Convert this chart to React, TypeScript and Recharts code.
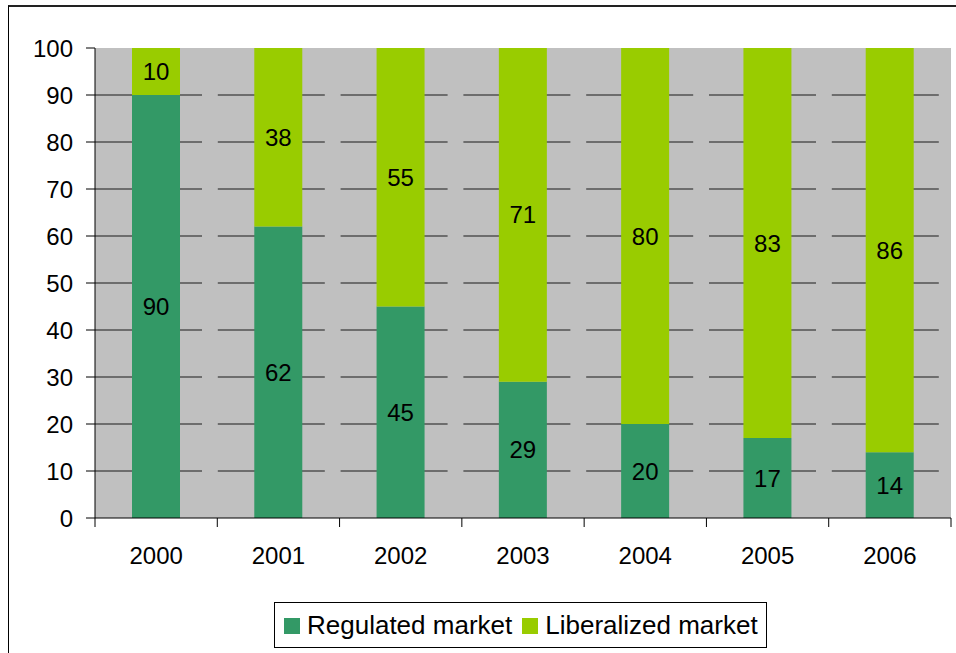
import { BarChart, Bar, XAxis, YAxis, CartesianGrid, Legend, LabelList } from "recharts";

const years = ["2000", "2001", "2002", "2003", "2004", "2005", "2006"];
const regulated = [90, 62, 45, 29, 20, 17, 14];
const liberalized = [10, 38, 55, 71, 80, 83, 86];
const yTicks = [0, 10, 20, 30, 40, 50, 60, 70, 80, 90, 100];
const gridValues = [10, 20, 30, 40, 50, 60, 70, 80, 90];

const REG_COLOR = "#339966";
const LIB_COLOR = "#99CC00";
const FONT = "'Liberation Sans', Arial, sans-serif";
const X_LABEL_GAP = 29;
const EDGE_TICK = 9;

const data = years.map((year, i) => ({
  year,
  regulated: regulated[i],
  liberalized: liberalized[i],
}));

// year label plus tick marks on the category edges (Excel style)
function YearTick(props: any) {
  const { x, y, payload, index, visibleTicksCount } = props;
  const half = payload?.offset || 61.14;
  const axisY = y - X_LABEL_GAP;
  const isLast = index === (visibleTicksCount ?? years.length) - 1;
  return (
    <g>
      <line x1={x - half} x2={x - half} y1={axisY} y2={axisY + EDGE_TICK} stroke="#000" />
      {isLast && <line x1={x + half} x2={x + half} y1={axisY} y2={axisY + EDGE_TICK} stroke="#000" />}
      <text x={x} y={y} dy="0.71em" textAnchor="middle" fill="#000" fontSize={24} fontFamily={FONT}>
        {payload.value}
      </text>
    </g>
  );
}

function LegendBox() {
  const items = [
    { label: "Regulated market", color: REG_COLOR },
    { label: "Liberalized market", color: LIB_COLOR },
  ];
  return (
    <div
      style={{
        boxSizing: "border-box",
        width: 493,
        height: 46,
        border: "1px solid #000",
        background: "#fff",
        display: "flex",
        alignItems: "center",
        paddingLeft: 9,
        fontFamily: FONT,
        fontSize: 26,
        color: "#000",
      }}
    >
      {items.map((it, i) => (
        <div key={it.label} style={{ display: "flex", alignItems: "center", marginRight: i === 0 ? 10 : 0 }}>
          <span style={{ width: 16, height: 16, background: it.color, marginRight: 7, marginTop: 2 }} />
          <span>{it.label}</span>
        </div>
      ))}
    </div>
  );
}

export default function App() {
  return (
    <div style={{ position: "absolute", left: 0, top: 0, width: 956, height: 653, overflow: "hidden", background: "#fff" }}>
      <div
        style={{
          position: "absolute",
          left: 8,
          top: 5,
          width: 970,
          height: 670,
          borderTop: "2px solid #222",
          borderLeft: "1px solid #000",
        }}
      />
      <div style={{ position: "absolute", left: 0, top: 0 }}>
        <BarChart
          width={956}
          height={653}
          data={data}
          margin={{ top: 48, right: 5, left: 0, bottom: 5 }}
          barSize={48}
        >
          <CartesianGrid
            horizontal
            vertical={false}
            fill="#C0C0C0"
            stroke="#1a1a1a"
            strokeDasharray="107 15.8"
            horizontalValues={gridValues}
          />
          <XAxis
            dataKey="year"
            height={84}
            axisLine={{ stroke: "#000" }}
            tickLine={false}
            tickSize={0}
            tickMargin={X_LABEL_GAP}
            tick={<YearTick />}
            interval={0}
          />
          <YAxis
            width={95}
            domain={[0, 100]}
            ticks={yTicks}
            interval={0}
            tickSize={9}
            tickMargin={13}
            axisLine={{ stroke: "#000" }}
            tickLine={{ stroke: "#000" }}
            tick={{ fill: "#000", fontSize: 24, fontFamily: FONT }}
          />
          <Legend
            verticalAlign="bottom"
            content={() => <LegendBox />}
            wrapperStyle={{ left: 274, top: 602, bottom: "auto", width: 493, height: 46 }}
          />
          <Bar dataKey="regulated" stackId="a" fill={REG_COLOR} isAnimationActive={false}>
            <LabelList dataKey="regulated" position="center" fill="#000" fontSize={24} fontFamily={FONT} />
          </Bar>
          <Bar dataKey="liberalized" stackId="a" fill={LIB_COLOR} isAnimationActive={false}>
            <LabelList dataKey="liberalized" position="center" fill="#000" fontSize={24} fontFamily={FONT} />
          </Bar>
        </BarChart>
      </div>
    </div>
  );
}
